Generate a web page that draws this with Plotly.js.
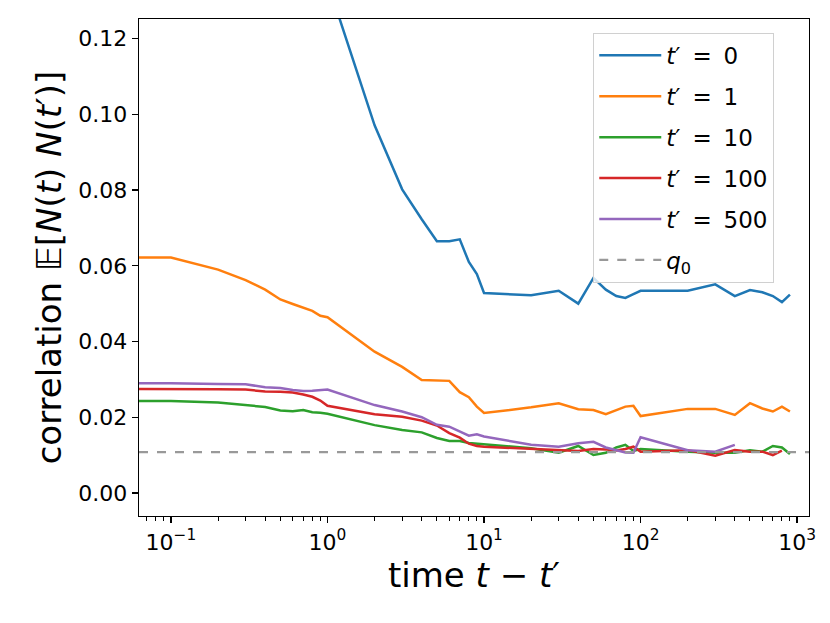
<!DOCTYPE html>
<html>
<head>
<meta charset="utf-8">
<script src="https://cdn.plot.ly/plotly-3.0.1.min.js"></script>
<style>html,body{margin:0;padding:0;background:#fff;}#chart{width:830px;height:623px;}</style>
</head>
<body>
<div id="chart"></div>
<script>
// lag t - t' ; the first entry stands for lag 0 (clipped to a tiny value on the log axis)
var lags = [0.001, 0.1, 0.2, 0.3, 0.4, 0.5, 0.6, 0.7, 0.8, 0.9,
  1, 2, 3, 4, 5, 6, 7, 8, 9,
  10, 20, 30, 40, 50, 60, 70, 80, 90,
  100, 200, 300, 400, 500, 600, 700, 800, 900];

var seriesNames = ["<i>t</i>′\u2009 = \u20090", "<i>t</i>′\u2009 = \u20091", "<i>t</i>′\u2009 = \u200910",
  "<i>t</i>′\u2009 = \u2009100", "<i>t</i>′\u2009 = \u2009500"];

var corrT0 = [0.30, 0.28, 0.26, 0.24, 0.22, 0.20, 0.185, 0.17, 0.158, 0.146,
  0.135, 0.0971, 0.0802, 0.0723, 0.0665, 0.0665, 0.067, 0.061, 0.0578,
  0.0528, 0.0522, 0.0534, 0.0500, 0.0568, 0.0537, 0.0520, 0.0515, 0.0525,
  0.0534, 0.0534, 0.0551, 0.0520, 0.0536, 0.0530, 0.0520, 0.0504, 0.0524];

var corrT1 = [0.0622, 0.0622, 0.0590, 0.0562, 0.0537, 0.0511, 0.0499, 0.0490, 0.0481, 0.0468,
  0.0464, 0.0373, 0.0333, 0.0298, 0.0296, 0.0296, 0.0266, 0.0253, 0.0228,
  0.0211, 0.0226, 0.0237, 0.0221, 0.0219, 0.0208, 0.0218, 0.0228, 0.0230,
  0.0203, 0.0222, 0.0222, 0.0206, 0.0237, 0.0223, 0.0215, 0.0228, 0.0215];

var corrT10 = [0.0243, 0.0243, 0.0239, 0.0233, 0.0227, 0.0218, 0.0216, 0.0219, 0.0213, 0.0212,
  0.0209, 0.0179, 0.0166, 0.0160, 0.0145, 0.0137, 0.0137, 0.0132, 0.0130,
  0.0128, 0.0118, 0.0106, 0.0124, 0.0100, 0.0106, 0.0120, 0.0127, 0.0111,
  0.0116, 0.0109, 0.0106, 0.0106, 0.0113, 0.0109, 0.0124, 0.0120, 0.0103];

var corrT100 = [0.0276, 0.0276, 0.0274, 0.0273, 0.0268, 0.0267, 0.0265, 0.0260, 0.0254, 0.0244,
  0.0230, 0.0208, 0.0201, 0.0191, 0.0178, 0.0158, 0.0146, 0.0130, 0.0124,
  0.0122, 0.0116, 0.0113, 0.0111, 0.0116, 0.0115, 0.0112, 0.0116, 0.0122,
  0.0109, 0.0113, 0.0098, 0.0113, 0.0109, 0.0109, 0.0100, 0.0112, null];

var corrT500 = [0.0290, 0.0290, 0.0288, 0.0287, 0.0279, 0.0277, 0.0272, 0.0269, 0.0270, 0.0272,
  0.0273, 0.0232, 0.0215, 0.0200, 0.0180, 0.0175, 0.0162, 0.0151, 0.0155,
  0.0149, 0.0127, 0.0122, 0.0131, 0.0135, 0.0120, 0.0113, 0.0107, 0.0106,
  0.0147, 0.0113, 0.0109, 0.0127, null, null, null, null, null];

var q0 = 0.0108;
var q0Name = "<i>q</i><sub>0</sub>";

var yTickVals = [0, 0.02, 0.04, 0.06, 0.08, 0.10, 0.12];
var xTickVals = [0.1, 1, 10, 100, 1000];
var xTickText = ["10<sup>−1</sup>", "10<sup>0</sup>", "10<sup>1</sup>", "10<sup>2</sup>", "10<sup>3</sup>"];

var colors = ["#1f77b4", "#ff7f0e", "#2ca02c", "#d62728", "#9467bd"];
var allSeries = [corrT0, corrT1, corrT10, corrT100, corrT500];

var traces = allSeries.map(function (ys, i) {
  return {
    x: lags, y: ys, type: "scatter", mode: "lines",
    name: seriesNames[i], legendgroup: "g" + i,
    line: {color: colors[i], width: 2.5},
    connectgaps: false, hoverinfo: "skip"
  };
});

// minor log ticks
var minorVals = [];
for (var e = -2; e <= 3; e++) {
  for (var k = 2; k <= 9; k++) minorVals.push(k * Math.pow(10, e));
}

var tickFont = {family: "DejaVu Sans, sans-serif", size: 22, color: "#000"};
var titleFont = {family: "DejaVu Sans, sans-serif", size: 34, color: "#000"};

var layout = {
  width: 830, height: 623,
  margin: {l: 139, r: 21, t: 19, b: 107},
  paper_bgcolor: "#fff", plot_bgcolor: "#fff",
  showlegend: true,
  xaxis: {
    type: "log",
    range: [-1.204, 3.076],
    tickmode: "array", tickvals: xTickVals, ticktext: xTickText,
    ticks: "outside", ticklen: 6, tickwidth: 1.2, tickcolor: "#000",
    minor: {tickmode: "array", tickvals: minorVals, ticks: "outside", ticklen: 3.5, tickwidth: 1, tickcolor: "#000", showgrid: false},
    showgrid: false, zeroline: false,
    showline: true, mirror: true, linecolor: "#000", linewidth: 1.3,
    tickfont: tickFont,
    title: {text: "time <i>t</i> − <i>t</i>′", font: titleFont, standoff: 6}
  },
  yaxis: {
    range: [-0.0061, 0.1252],
    tickmode: "array", tickvals: yTickVals, tickformat: ".2f",
    ticks: "outside", ticklen: 6, tickwidth: 1.2, tickcolor: "#000",
    showgrid: false, zeroline: false,
    showline: true, mirror: true, linecolor: "#000", linewidth: 1.3,
    tickfont: tickFont,
    title: {text: "correlation 𝔼[<i>N</i>(<i>t</i>) <i>N</i>(<i>t</i>′)]", font: titleFont, standoff: 6}
  },
  legend: {
    x: 0.678, y: 0.972, xanchor: "left", yanchor: "top",
    bgcolor: "rgba(255,255,255,0.8)", bordercolor: "#d0d0d0", borderwidth: 1,
    font: {family: "DejaVu Sans, sans-serif", size: 23, color: "#000"},
    traceorder: "grouped", tracegroupgap: 8,
    itemwidth: 62
  },
  shapes: [{
    type: "line", xref: "paper", x0: 0, x1: 1, yref: "y", y0: q0, y1: q0,
    line: {color: "#999999", width: 2.2, dash: "dash"},
    showlegend: true, name: q0Name, legendgroup: "q0", layer: "above"
  }]
};

Plotly.newPlot("chart", traces, layout, {displayModeBar: false, staticPlot: true});
</script>
</body>
</html>
